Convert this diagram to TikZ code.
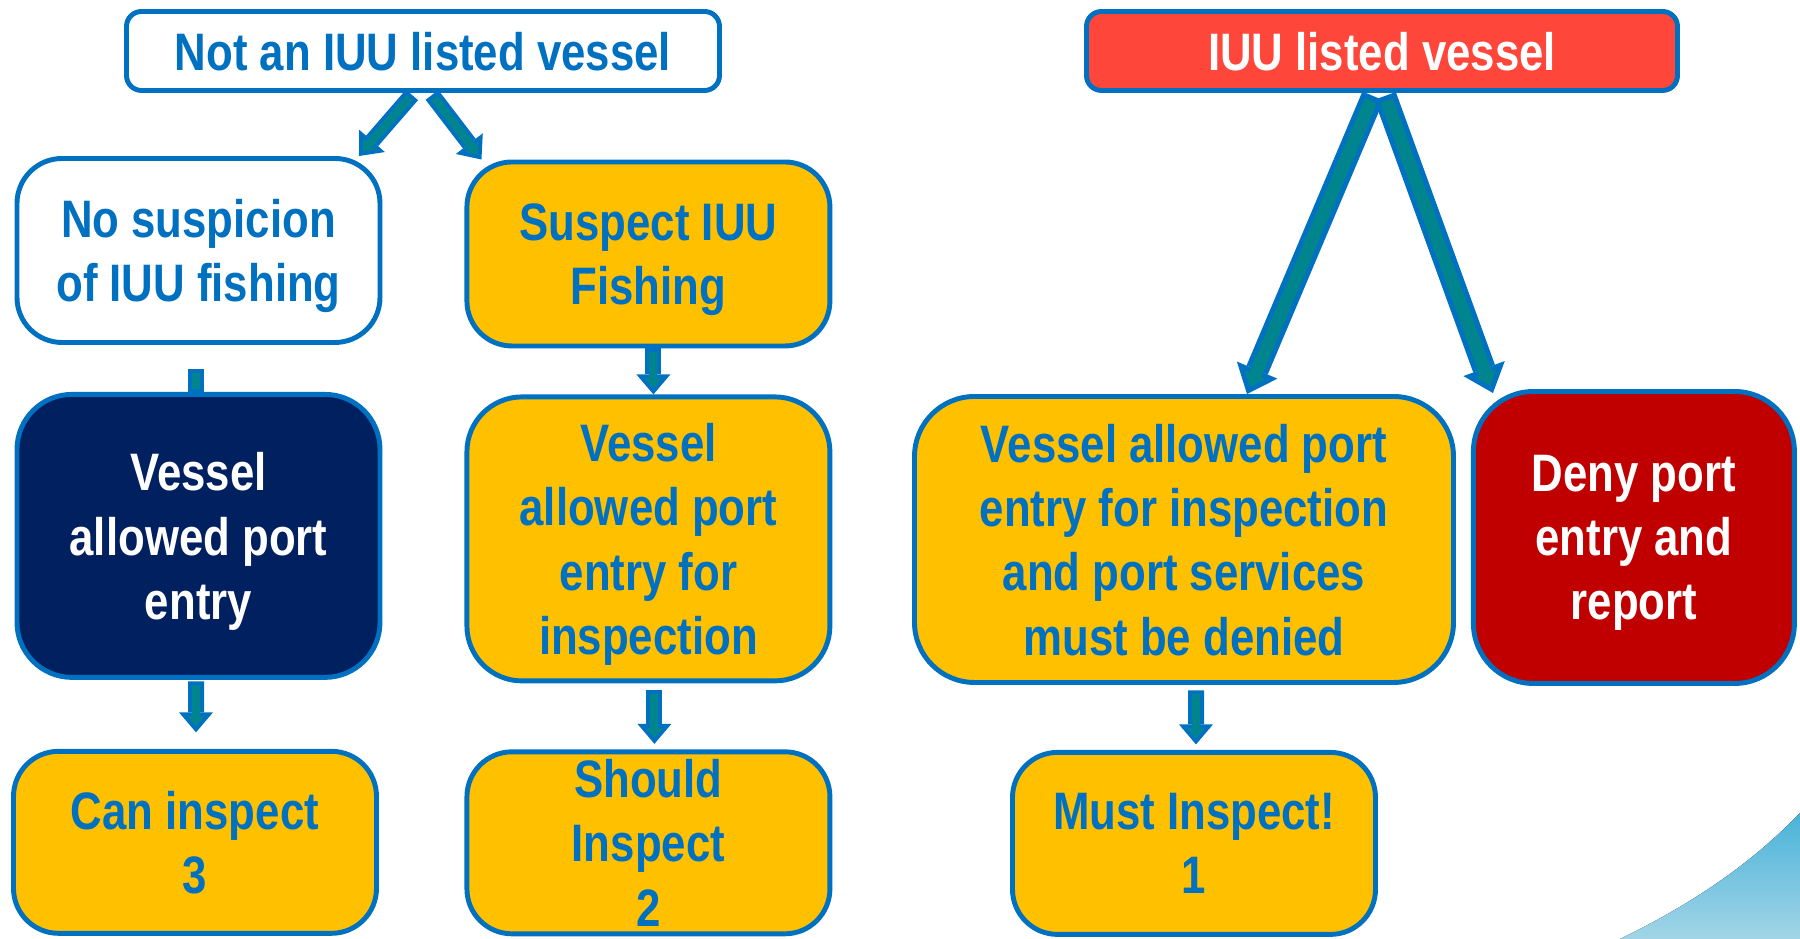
\documentclass[tikz,border=0pt]{standalone}
\usepackage{fontspec}
\setmainfont{Liberation Sans}[FakeStretch=0.83]
\usetikzlibrary{positioning,arrows.meta}

\definecolor{lineblue}{HTML}{0070C0}
\definecolor{boxyellow}{HTML}{FFC000}
\definecolor{navybox}{HTML}{002060}
\definecolor{denyred}{HTML}{C00000}
\definecolor{listedred}{HTML}{FF463A}
\definecolor{arrowteal}{HTML}{00858F}
\definecolor{swooshtop}{HTML}{4AB3D9}
\definecolor{swooshbot}{HTML}{A2D5E7}

\newcommand{\boxfont}{\fontsize{15}{18.3}\selectfont\bfseries}

\begin{document}
\begin{tikzpicture}[
    node distance=0.5cm,
    box/.style={rectangle, rounded corners=0.45cm, minimum width=3.63cm, minimum height=1.84cm, inner sep=0pt, text depth=0pt, align=center, draw=lineblue, line width=1.4pt, fill=boxyellow, text=lineblue, font=\boxfont},
    flow/.style={arrowteal, line width=0.08cm, shorten <=0.04cm, shorten >=0.062cm, -{Triangle[length=0.098cm, width=0.167cm, line width=0pt]},
      preaction={draw=lineblue, line width=0.16cm, shorten <=0pt, shorten >=0pt, -{Triangle[length=0.2cm, width=0.34cm, line width=0pt]}}},
    bigflow/.style={arrowteal, line width=0.13cm, shorten <=0.05cm, shorten >=0.078cm, -{Triangle[length=0.132cm, width=0.224cm, line width=0pt]},
      preaction={draw=lineblue, line width=0.23cm, shorten <=0pt, shorten >=0pt, -{Triangle[length=0.26cm, width=0.44cm, line width=0pt]}}},
    stub/.style={arrowteal, line width=0.08cm, shorten <=0.04cm, shorten >=0.03cm,
      preaction={draw=lineblue, line width=0.16cm, shorten <=0pt, shorten >=0pt}}
]
\useasboundingbox (0,0) rectangle (18,9.39);

% Background swoosh, bottom right
\fill[top color=swooshtop, bottom color=swooshbot] (18,1.26) .. controls (17.5,0.74) and (16.9,0.34) .. (16.2,0) -- (18,0) -- cycle;

% Row 1: listed or not
\node (notiuu) [box, rounded corners=0.15cm, minimum width=5.93cm, minimum height=0.79cm, fill=white] at (4.23,8.88) {Not an IUU listed vessel};
\node (iuu) [box, rounded corners=0.15cm, minimum width=5.91cm, minimum height=0.79cm, fill=listedred, text=white] at (13.82,8.88) {IUU listed vessel};

% Row 2: suspicion
\node (nosusp) [box, fill=white] at (1.985,6.885) {No suspicion\\of IUU fishing};
\node (suspect) [box, right=0.82cm of nosusp, yshift=-0.035cm] {Suspect IUU\\Fishing};

% Row 3: port entry decision
\node (allowed) [box, below=0.47cm of nosusp, minimum height=2.83cm, rounded corners=0.55cm, fill=navybox, text=white] {Vessel\\allowed port\\entry};
\node (allowedinsp) [box, below=0.46cm of suspect, minimum height=2.84cm, rounded corners=0.55cm] {Vessel\\allowed port\\entry for\\inspection};
\node (mustdeny) [box, minimum width=5.39cm, minimum height=2.86cm, rounded corners=0.6cm] at (11.84,3.995) {Vessel allowed port\\entry for inspection\\and port services\\must be denied};
\node (deny) [box, right=0.15cm of mustdeny, yshift=0.02cm, minimum width=3.21cm, minimum height=2.92cm, rounded corners=0.6cm, fill=denyred, text=white] {Deny port\\entry and\\report};

% Row 4: inspection priority
\node (caninsp) [box, below=0.69cm of allowed, xshift=-0.035cm, minimum height=1.82cm] {Can inspect\\3};
\node (shouldinsp) [box, below=0.66cm of allowedinsp, minimum height=1.82cm] {Should\\Inspect\\2};
\node (mustinsp) [box, below=0.65cm of mustdeny, xshift=0.1cm, minimum height=1.82cm] {Must Inspect!\\1};

% Branch arrows
\draw[flow] ([xshift=-0.11cm, yshift=-0.02cm]notiuu.south) -- ([xshift=-0.235cm]nosusp.north east);
\draw[flow] ([xshift=0.09cm, yshift=-0.02cm]notiuu.south) -- ([xshift=0.17cm]suspect.north west);
\draw[bigflow] ([xshift=-0.09cm, yshift=-0.03cm]iuu.south) -- ([xshift=0.63cm]mustdeny.north);
\draw[bigflow] ([xshift=0.03cm, yshift=-0.03cm]iuu.south) -- ([xshift=0.22cm, yshift=-0.04cm]deny.north west);

% Downward arrows
\draw[stub] ([xshift=-0.03cm, yshift=-0.245cm]nosusp.south) -- ([xshift=-0.03cm]allowed.north);
\draw[flow] ([xshift=0.05cm]suspect.south) -- ([xshift=0.05cm]allowedinsp.north);
\draw[flow] ([xshift=-0.025cm, yshift=-0.015cm]allowed.south) -- ([xshift=0.01cm, yshift=0.165cm]caninsp.north);
\draw[flow] ([xshift=0.06cm, yshift=-0.065cm]allowedinsp.south) -- ([xshift=0.06cm, yshift=0.055cm]shouldinsp.north);
\draw[flow] ([xshift=0.12cm, yshift=-0.055cm]mustdeny.south) -- ([xshift=0.02cm, yshift=0.055cm]mustinsp.north);

\end{tikzpicture}
\end{document}
